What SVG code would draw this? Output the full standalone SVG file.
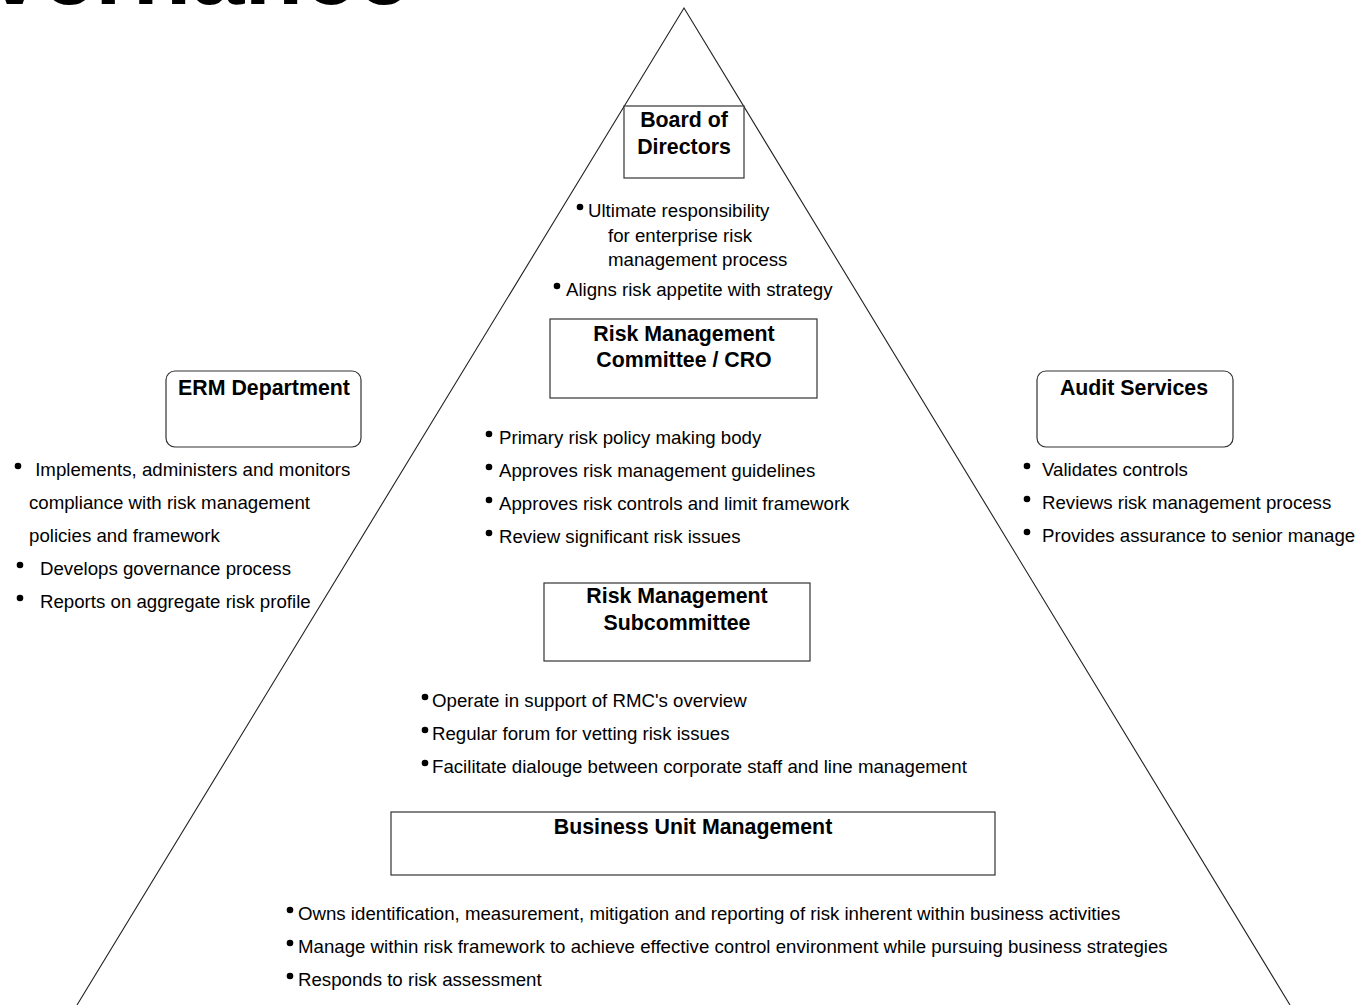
<svg xmlns="http://www.w3.org/2000/svg" width="1362" height="1005" viewBox="0 0 1362 1005">
<style>
.t{font-family:"Liberation Sans",Arial,sans-serif;font-size:18.67px;fill:#000}
.h{font-family:"Liberation Sans",Arial,sans-serif;font-size:21.33px;font-weight:bold;fill:#000;text-anchor:middle}
.box{fill:#fff;stroke:#333;stroke-width:1.2}
.tri{fill:none;stroke:#222;stroke-width:1.1}
.dot{fill:#000}
</style>
<rect width="1362" height="1005" fill="#fff"/>
<text x="-145" y="4" style="font-family:'Liberation Sans',Arial,sans-serif;font-size:96px;font-weight:bold;fill:#000">Governance</text>
<g id="connectors">
<polyline class="tri" points="77,1005 684,8 1290,1005"/>
</g>
<g id="board">
<rect class="box" x="624" y="106" width="120" height="72"/>
<text class="h" x="684" y="127">Board of</text>
<text class="h" x="684" y="154">Directors</text>
<circle class="dot" cx="580" cy="207" r="3.3"/>
<text class="t" x="588" y="217">Ultimate responsibility</text>
<text class="t" x="608" y="242">for enterprise risk</text>
<text class="t" x="608" y="266">management process</text>
<circle class="dot" cx="557" cy="286" r="3.3"/>
<text class="t" x="566" y="296">Aligns risk appetite with strategy</text>
</g>
<g id="rmc">
<rect class="box" x="550" y="319" width="267" height="79"/>
<text class="h" x="684" y="341">Risk Management</text>
<text class="h" x="684" y="367">Committee / CRO</text>
<circle class="dot" cx="489" cy="434" r="3.3"/>
<text class="t" x="499" y="444">Primary risk policy making body</text>
<circle class="dot" cx="489" cy="467" r="3.3"/>
<text class="t" x="499" y="477">Approves risk management guidelines</text>
<circle class="dot" cx="489" cy="500" r="3.3"/>
<text class="t" x="499" y="510">Approves risk controls and limit framework</text>
<circle class="dot" cx="489" cy="533" r="3.3"/>
<text class="t" x="499" y="543">Review significant risk issues</text>
</g>
<g id="rms">
<rect class="box" x="544" y="583" width="266" height="78"/>
<text class="h" x="677" y="603">Risk Management</text>
<text class="h" x="677" y="630">Subcommittee</text>
<circle class="dot" cx="425" cy="697" r="3.3"/>
<text class="t" x="432" y="707">Operate in support of RMC's overview</text>
<circle class="dot" cx="425" cy="730" r="3.3"/>
<text class="t" x="432" y="740">Regular forum for vetting risk issues</text>
<circle class="dot" cx="425" cy="763" r="3.3"/>
<text class="t" x="432" y="773">Facilitate dialouge between corporate staff and line management</text>
</g>
<g id="bum">
<rect class="box" x="391" y="812" width="604" height="63"/>
<text class="h" x="693" y="834">Business Unit Management</text>
<circle class="dot" cx="290" cy="910" r="3.3"/>
<text class="t" x="298" y="920">Owns identification, measurement, mitigation and reporting of risk inherent within business activities</text>
<circle class="dot" cx="290" cy="943" r="3.3"/>
<text class="t" x="298" y="953">Manage within risk framework to achieve effective control environment while pursuing business strategies</text>
<circle class="dot" cx="290" cy="976" r="3.3"/>
<text class="t" x="298" y="986">Responds to risk assessment</text>
</g>
<g id="erm">
<rect class="box" x="166" y="371" width="195" height="76" rx="9"/>
<text class="h" x="264" y="395">ERM Department</text>
<circle class="dot" cx="18" cy="466" r="3.3"/>
<text class="t" x="30" y="476" xml:space="preserve"> Implements, administers and monitors</text>
<text class="t" x="29" y="509">compliance with risk management</text>
<text class="t" x="29" y="542">policies and framework</text>
<circle class="dot" cx="20" cy="565" r="3.3"/>
<text class="t" x="40" y="575">Develops governance process</text>
<circle class="dot" cx="20" cy="598" r="3.3"/>
<text class="t" x="40" y="608">Reports on aggregate risk profile</text>
</g>
<g id="audit">
<rect class="box" x="1037" y="371" width="196" height="76" rx="9"/>
<text class="h" x="1134" y="395">Audit Services</text>
<circle class="dot" cx="1027" cy="466" r="3.3"/>
<text class="t" x="1042" y="476">Validates controls</text>
<circle class="dot" cx="1027" cy="499" r="3.3"/>
<text class="t" x="1042" y="509">Reviews risk management process</text>
<circle class="dot" cx="1027" cy="532" r="3.3"/>
<text class="t" x="1042" y="542">Provides assurance to senior manage</text>
</g>
</svg>
